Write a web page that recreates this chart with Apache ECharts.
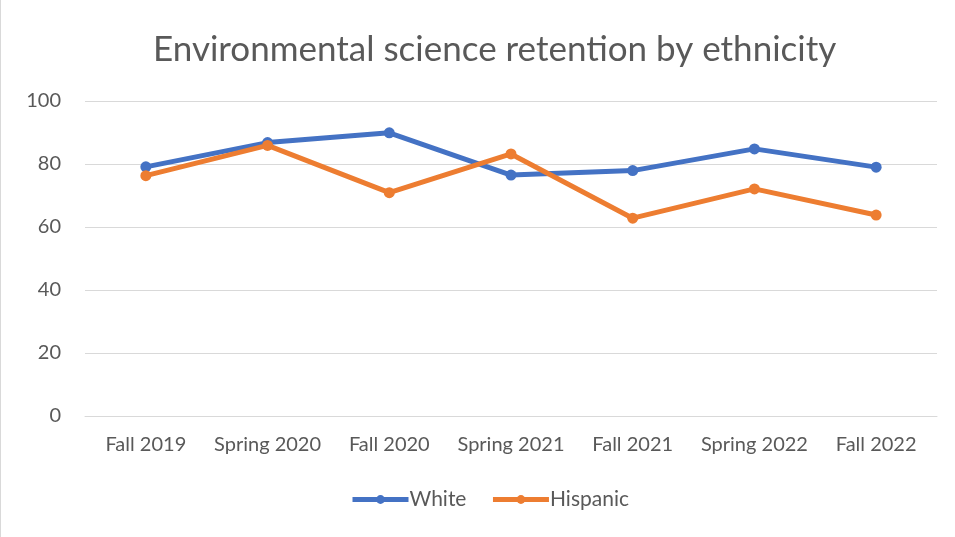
<!DOCTYPE html>
<html>
<head>
<meta charset="utf-8">
<script src="https://cdn.jsdelivr.net/npm/echarts@6/dist/echarts.min.js"></script>
<style>
  html, body { margin: 0; padding: 0; background: #fff; }
  #chart { width: 955px; height: 537px; box-sizing: border-box; border-left: 1px solid #d9d9d9; }
</style>
</head>
<body>
<div id="chart"></div>
<script>
// Terms and retention percentages per group
const terms = ['Fall 2019', 'Spring 2020', 'Fall 2020', 'Spring 2021', 'Fall 2021', 'Spring 2022', 'Fall 2022'];
const white = [79.1, 86.8, 89.9, 76.5, 77.9, 84.8, 79.0];
const hispanic = [76.3, 85.9, 70.9, 83.2, 62.8, 72.1, 63.8];
const yTicks = [0, 20, 40, 60, 80, 100];

const fontFamily = 'Lato, "Open Sans", sans-serif';
const textColor = '#595959';

const chart = echarts.init(document.getElementById('chart'), null, { renderer: 'canvas' });

function lineSeries(name, data, color) {
  return {
    name: name,
    type: 'line',
    data: data,
    symbol: 'circle',
    symbolSize: 11,
    lineStyle: { width: 5, color: color },
    itemStyle: { color: color },
    emphasis: { disabled: true },
    animation: false
  };
}

chart.setOption({
  backgroundColor: '#fff',
  title: {
    text: 'Environmental science retention by ethnicity',
    left: 147,
    top: 27,
    textStyle: { fontFamily: fontFamily, fontSize: 35, fontWeight: 'normal', color: textColor }
  },
  grid: { left: 84, right: 18, top: 101, bottom: 121 },
  legend: {
    bottom: 22,
    left: 344,
    itemWidth: 56,
    itemHeight: 11,
    itemGap: 24,
    lineStyle: { width: 5 },
    textStyle: { fontFamily: fontFamily, fontSize: 21, color: textColor, padding: [0, 0, 0, -4] },
    data: ['White', 'Hispanic']
  },
  xAxis: {
    type: 'category',
    data: terms,
    boundaryGap: true,
    axisLine: { show: true, lineStyle: { color: '#d9d9d9', width: 1 } },
    axisTick: { show: false },
    axisLabel: { fontFamily: fontFamily, fontSize: 20, color: textColor, margin: 19, interval: 0 }
  },
  yAxis: {
    type: 'value',
    min: yTicks[0],
    max: yTicks[yTicks.length - 1],
    interval: 20,
    axisLine: { show: false },
    axisTick: { show: false },
    splitLine: { lineStyle: { color: '#d9d9d9', width: 1 } },
    axisLabel: { fontFamily: fontFamily, fontSize: 20, color: textColor, margin: 24 }
  },
  series: [
    lineSeries('White', white, '#4472C4'),
    lineSeries('Hispanic', hispanic, '#ED7D31')
  ]
});
</script>
</body>
</html>
